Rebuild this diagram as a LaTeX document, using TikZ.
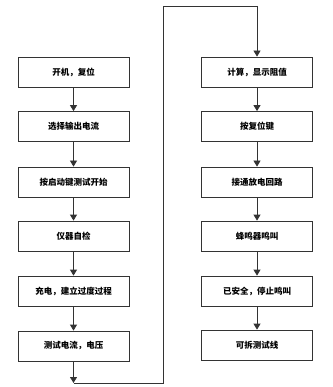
\documentclass[tikz,border=0pt]{standalone}
\usepackage{fontspec}
\newfontfamily\cjk{Noto Sans CJK SC}
\usepackage{tikz}
\usetikzlibrary{arrows.meta,positioning}

\begin{document}
\begin{tikzpicture}[x=1pt, y=-1pt,
  stepbox/.style={draw=black!80, line width=0.8pt, fill=white,
    minimum width=111pt, minimum height=30pt, inner sep=0pt,
    align=center, font=\cjk\bfseries\fontsize{8.5}{10}\selectfont},
  arr/.style={-{Triangle[width=7pt,length=6pt]}, draw=black!80, line width=0.8pt},
  ln/.style={draw=black!80, line width=0.8pt},
]
\useasboundingbox (0,0) rectangle (332,387);
% left column
\node[stepbox] (s1) at (73.5,72)  {开机，复位};
\node[stepbox] (s2) at (73.5,126.5) {选择输出电流};
\node[stepbox] (s3) at (73.5,182) {按启动键测试开始};
\node[stepbox] (s4) at (73.5,236) {仪器自检};
\node[stepbox] (s5) at (73.5,291) {充电，建立过度过程};
\node[stepbox] (s6) at (73.5,346) {测试电流，电压};
% right column
\node[stepbox] (s7)  at (257,72)  {计算，显示阻值};
\node[stepbox] (s8)  at (257,126.5) {按复位键};
\node[stepbox] (s9)  at (257,182) {接通放电回路};
\node[stepbox] (s10) at (257,236) {蜂鸣器鸣叫};
\node[stepbox] (s11) at (257,291) {已安全，停止鸣叫};
\node[stepbox] (s12) at (257,345) {可拆测试线};
% turn-around
\coordinate (c1) at (73.5,383);
\coordinate (c2) at (163,383);
\coordinate (c3) at (163,6);
\coordinate (c4) at (257,6);
\draw[arr] (s1) -- (s2);
\draw[arr] (s2) -- (s3);
\draw[arr] (s3) -- (s4);
\draw[arr] (s4) -- (s5);
\draw[arr] (s5) -- (s6);
\draw[arr] (s6) -- (c1);
\draw[ln]  (c1) -- (c2) -- (c3) -- (c4);
\draw[arr] (c4) -- (s7);
\draw[arr] (s7) -- (s8);
\draw[arr] (s8) -- (s9);
\draw[arr] (s9) -- (s10);
\draw[arr] (s10) -- (s11);
\draw[arr] (s11) -- (s12);
\end{tikzpicture}
\end{document}
